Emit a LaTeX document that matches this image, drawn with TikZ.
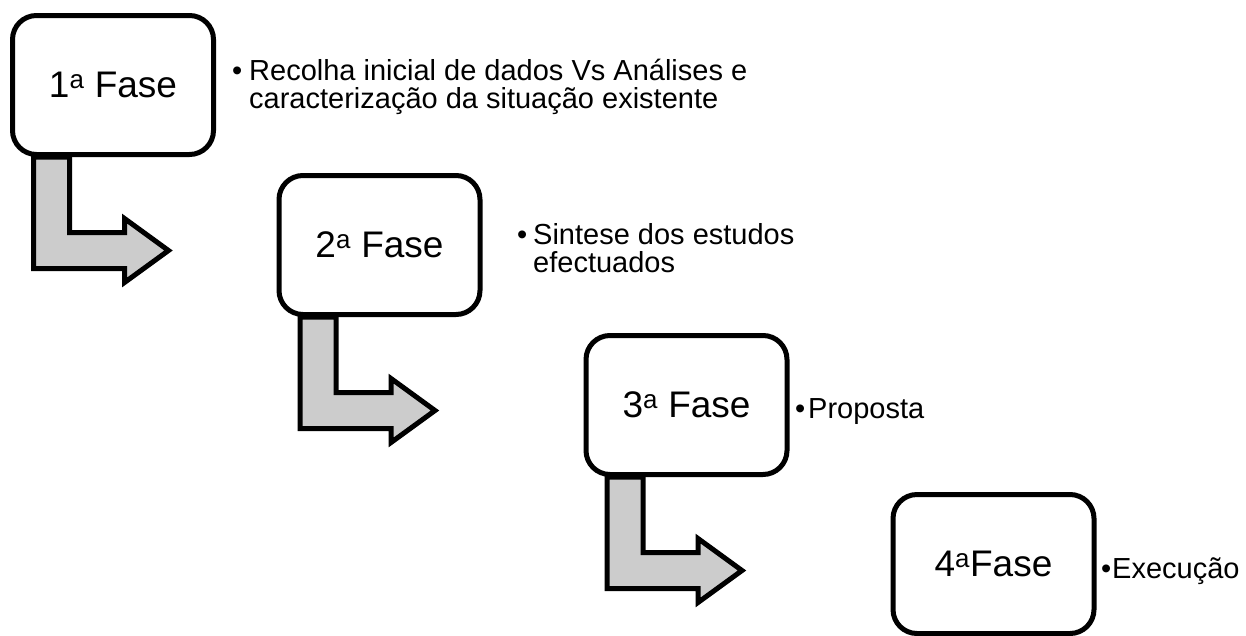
\documentclass[tikz,border=0pt]{standalone}
\usepackage{fontspec}
\setmainfont{Liberation Sans}
\definecolor{arrowgray}{RGB}{204,204,204}
\tikzset{
  fase/.style={draw, line width=5pt, rounded corners=24pt, fill=white,
    minimum width=201pt, minimum height=139pt, font=\fontsize{37}{37}\selectfont},
  nota/.style={anchor=base west, align=left, inner sep=0pt, font=\fontsize{29}{28}\selectfont},
  bentarrow/.style={draw, line width=5pt, line join=miter, fill=arrowgray}
}
\newcommand{\pnt}[1]{\makebox[#1][l]{•}}
\begin{document}
\begin{tikzpicture}[x=1pt,y=-1pt]
    \useasboundingbox (0,0) rectangle (1246,635); % page = reference size
    \node[fase] (f1) at (113,85) {1\textsuperscript{a} Fase};
    \node[fase] (f2) at (379.5,245) {2\textsuperscript{a} Fase};
    \node[fase] (f3) at (686.5,405) {3\textsuperscript{a} Fase};
    \node[fase] (f4) at (993.5,564) {4\textsuperscript{a}Fase};
    \foreach \f in {f1,f2,f3}
        \draw[bentarrow, shift={(\f.south west)}] (23.5,0) -- ++(0,111.5) -- ++(91,0) -- ++(0,14)
            -- ++(44,-32) -- ++(-44,-32) -- ++(0,14) -- ++(-55,0) -- ++(0,-75.5) -- cycle;
    % base of a two-line node is its last line
    \node[nota] (t1) at (232,108) {\pnt{17pt}Recolha inicial de dados Vs Análises e\\
        \hphantom{\pnt{17pt}}caracterização da situação existente};
    \node[nota] (t2) at (517,272) {\pnt{16pt}Sintese dos estudos\\
        \hphantom{\pnt{16pt}}efectuados};
    \node[nota] (t3) at (795,418) {\pnt{13pt}Proposta};
    \node[nota] (t4) at (1101,578) {\pnt{11pt}Execução};
\end{tikzpicture}
\end{document}
